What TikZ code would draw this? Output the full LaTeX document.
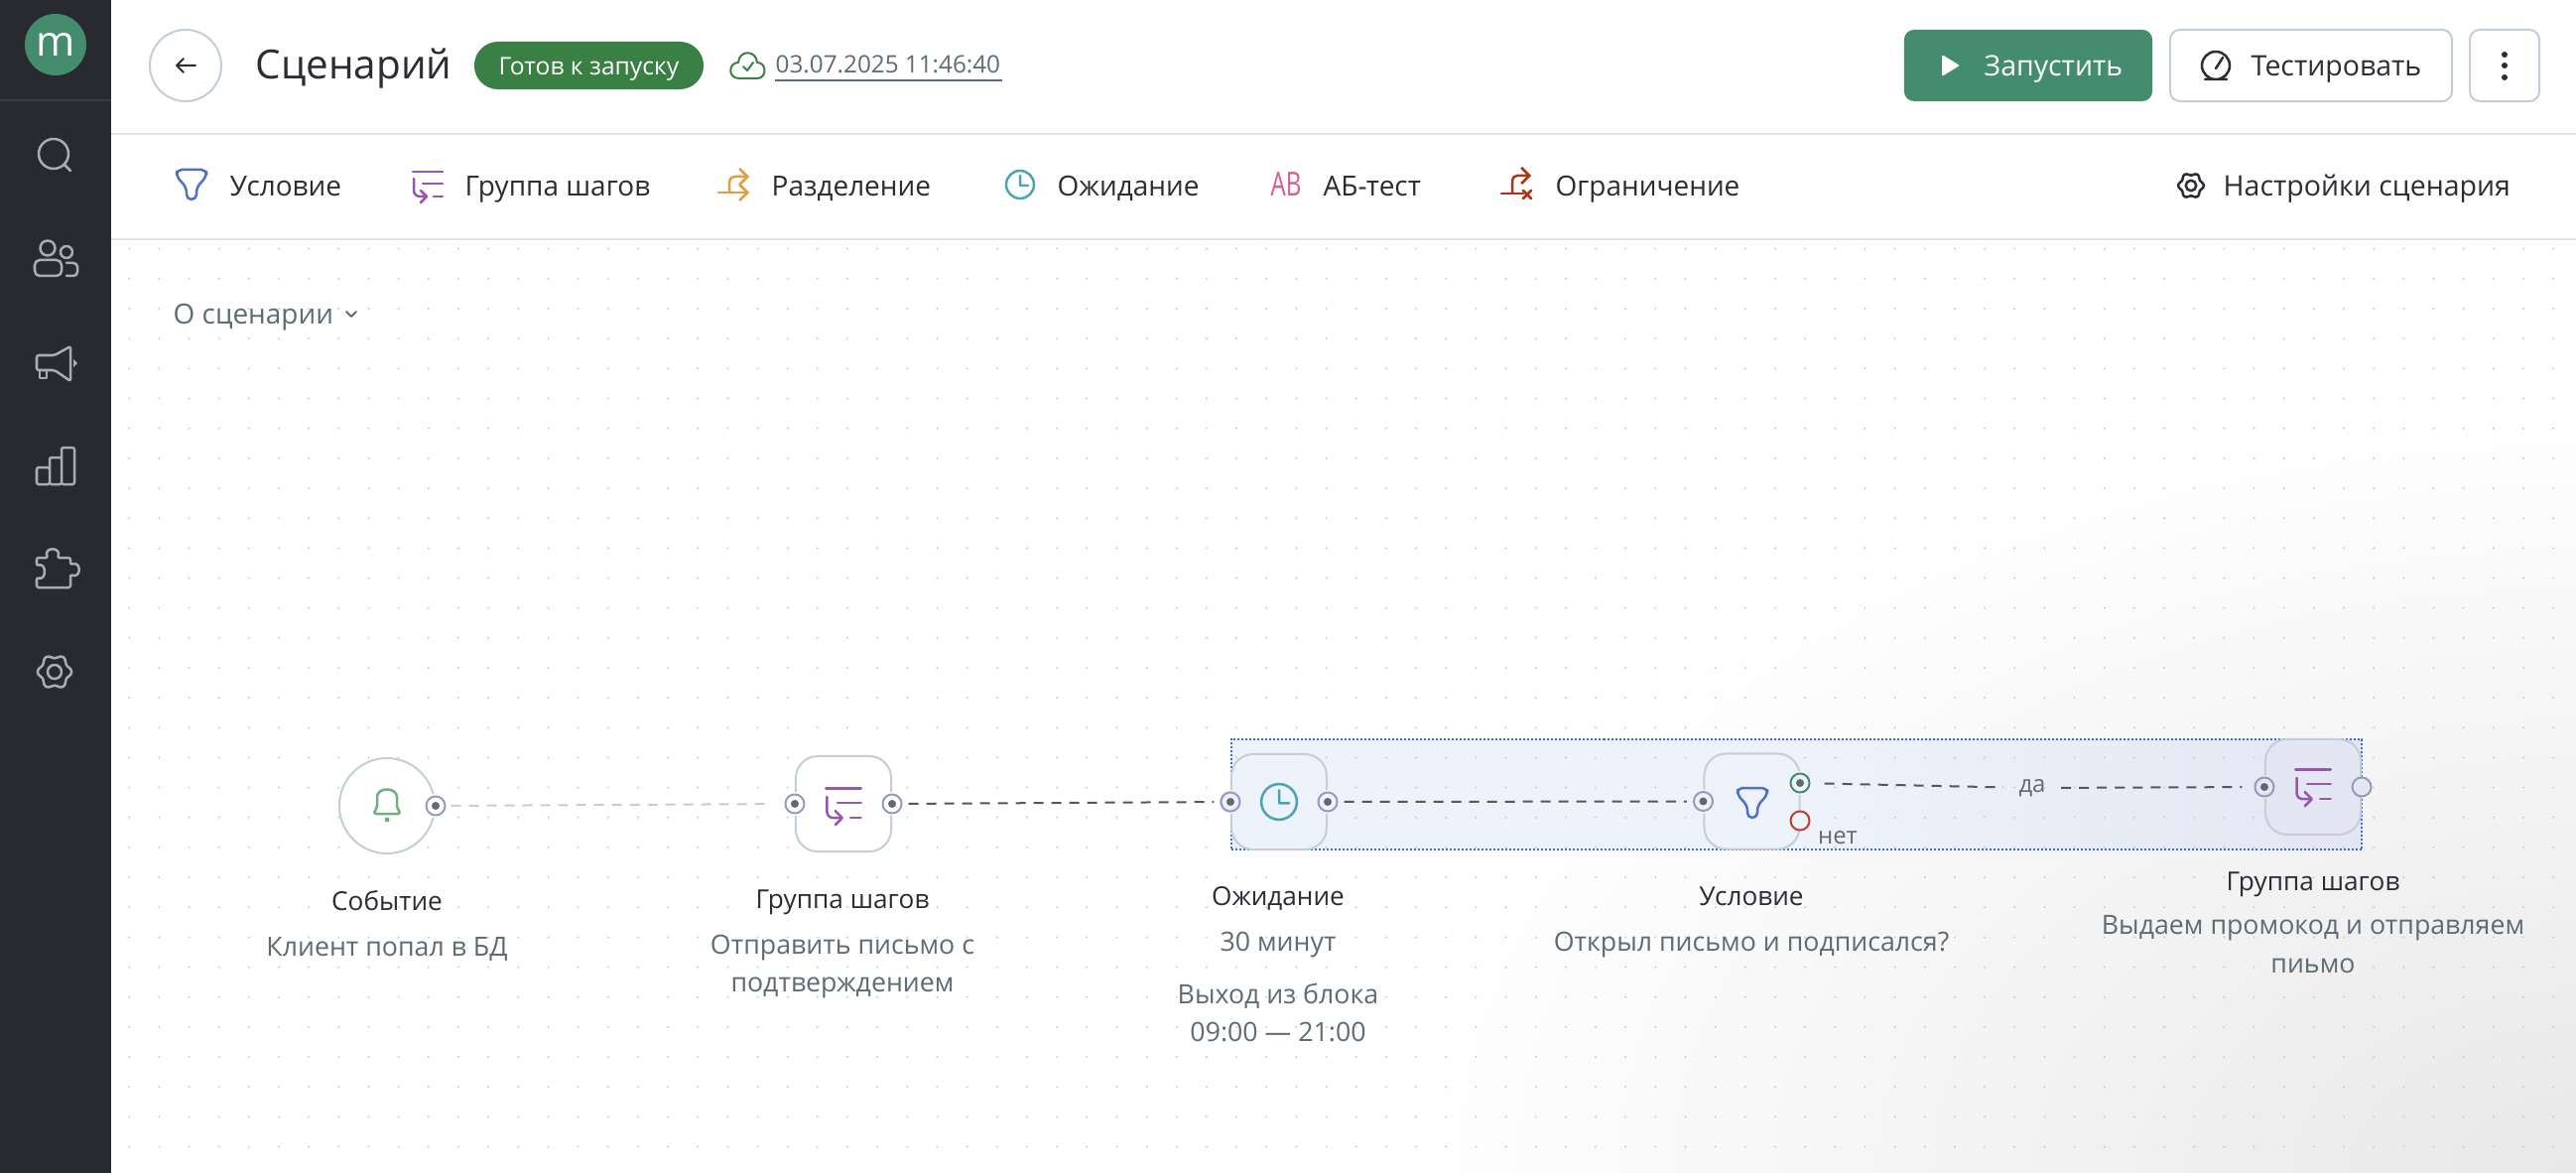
\documentclass[tikz,border=0pt]{standalone}
\usepackage{fontspec}
\setmainfont{Open Sans}
\usetikzlibrary{shapes, arrows.meta, positioning, calc}
\definecolor{railgray}{RGB}{40, 42, 47}
\definecolor{railicon}{RGB}{170, 172, 175}
\definecolor{railrule}{RGB}{58, 61, 66}
\definecolor{popgreen}{RGB}{67, 141, 110}
\definecolor{badgegreen}{RGB}{58, 128, 68}
\definecolor{inkdark}{RGB}{43, 45, 51}
\definecolor{inkgray}{RGB}{95, 107, 114}
\definecolor{edgegray}{RGB}{195, 206, 214}
\definecolor{rulegray}{RGB}{224, 228, 232}
\definecolor{portblue}{RGB}{150, 155, 190}
\definecolor{griddot}{RGB}{200, 203, 206}
\definecolor{selblue}{RGB}{62, 107, 224}
\definecolor{selfill}{RGB}{238, 242, 251}
\definecolor{selfade}{RGB}{228, 231, 243}
\definecolor{funnelblue}{RGB}{79, 111, 201}
\definecolor{stepviolet}{RGB}{150, 87, 173}
\definecolor{splitorange}{RGB}{224, 158, 62}
\definecolor{clockteal}{RGB}{74, 165, 174}
\definecolor{abpink}{RGB}{214, 92, 140}
\definecolor{limitred}{RGB}{172, 50, 24}
\definecolor{bellgreen}{RGB}{111, 176, 127}
\definecolor{nored}{RGB}{196, 62, 40}

\begin{document}
\begin{tikzpicture}[
  x=0.01cm, y=-0.01cm,
  thinline/.style={line width=.02cm, line cap=round, line join=round},
  railline/.style={thinline, draw=railicon, line width=.025cm},
  toolline/.style={thinline, line width=.025cm},
  toollabel/.style={anchor=west, inner sep=0, text height=.23cm, text depth=.03cm, text=inkdark, font=\fontsize{7.95}{10.8}\selectfont},
  widelabel/.style={toollabel, font=\fontsize{8.1}{10.8}\selectfont},
  steptitle/.style={inner sep=0, text height=.23cm, text depth=.03cm, text=inkdark, font=\fontsize{7.45}{10.8}\selectfont},
  stepnote/.style={anchor=north, align=center, inner sep=0, text=inkgray, font=\fontsize{7.6}{10.9}\selectfont},
  stepbox/.style={draw=edgegray, fill=#1, line width=.02cm, rounded corners=.22cm, minimum size=.96cm, inner sep=0},
  stepbox/.default=white,
  portdot/.style={circle, draw=portblue, fill=#1, line width=.02cm, minimum size=.19cm, inner sep=0,
    preaction={draw=#1, line width=.05cm},
    path picture={\fill[inkgray] (path picture bounding box.center) circle (.04cm);}},
  portdot/.default=white,
  flowfaint/.style={draw=edgegray, line width=.02cm, dash pattern=on .1cm off .08cm, shorten >=.14cm, shorten <=.05cm},
  flowdark/.style={draw=inkdark!80, line width=.02cm, dash pattern=on .1cm off .08cm, shorten >=.06cm, shorten <=.06cm},
  funnelicon/.pic={\draw[toolline, rounded corners=.05cm] (-15,-15) -- (15,-15) -- (15,-8) -- (5,3) -- (5,15) -- (-5,15) -- (-5,3) -- (-15,-8) -- cycle;},
  groupicon/.pic={
    \draw[toolline] (-15,-13) -- (15,-13) (-5,-1) -- (15,-1) (6,12) -- (15,12);
    \draw[toolline, rounded corners=.06cm] (-14,-6) -- (-14,12) -- (-2,12);
    \draw[toolline] (-7,6) -- (-1,12) -- (-7,18);},
  clockicon/.pic={\draw[toolline] (0,0) circle (14) (0,-9) -- (0,1) -- (8,1);},
  gearicon/.pic={
    \draw[thinline, line width=.025cm] plot[domain=0:350, samples=36, smooth cycle] ({(15.5+1.8*cos(6*\x))*cos(\x)},{(15.5+1.8*cos(6*\x))*sin(\x)});
    \draw[thinline, line width=.025cm] (0,0) circle (7);}
]
  \useasboundingbox (0,0) rectangle (2596,1182);
  \fill[white] (0,0) rectangle (2596,1182);
  \begin{scope}
    \clip (112,241) rectangle (2596,1182);
    \shade[inner color=black!9, outer color=white] (2596,1182) ellipse (1200 and 780);
  \end{scope}

  \node[draw=selblue, left color=selfill, right color=selfade, middle color=selfill, line width=.02cm, dash pattern=on .02cm off .02cm, minimum width=11.39cm, minimum height=1.11cm, inner sep=0] (selection) at (1810.5,800.5) {};
  \fill[griddot] \foreach \i in {0,...,81} { \foreach \j in {0,...,30} { ({130.2+\i*30.16},{250.7+\j*30.16}) circle (1.1) } };

  \fill[railgray] (0,0) rectangle (112,1182);
  \draw[railrule, line width=.02cm] (0,101) -- (112,101);
  \draw[rulegray, line width=.02cm] (112,135) -- (2596,135);
  \draw[rulegray, line width=.02cm] (112,241) -- (2596,241);

  \node[circle, fill=popgreen, minimum size=.62cm, inner sep=0, text=white, font=\fontsize{12}{12}\selectfont] (logo) at (56,45) {m};
  \draw[railline] (54,155) circle (15) (65,166) -- (71,172);
  \draw[railline] (48,250) circle (7.5) (67,254) circle (6);
  \draw[railline, rounded corners=.05cm] (35,278) -- (35,262) -- (62,262) -- (62,278) -- cycle;
  \draw[railline, rounded corners=.04cm] (67,265) -- (78,265) -- (78,278) -- (67,278);
  \draw[railline, rounded corners=.02cm] (37,358) -- (55,358) -- (71,349) -- (71,384) -- (55,373) -- (37,373) -- cycle;
  \draw[railline] (40,373) -- (40,381) -- (47,381) -- (47,373);
  \fill[railicon] (74,362) -- (78,366) -- (74,370) -- cycle;
  \draw[railline, rounded corners=.02cm] (37,471) rectangle (50,488) (50,461) rectangle (62,488) (62,451) rectangle (75,488);
  \draw[railline, rounded corners=.02cm] (37,562) -- (48,562) .. controls (44,551) and (62,551) .. (58,562) -- (71,562) -- (71,569) .. controls (82,565) and (82,583) .. (71,579) -- (71,592) -- (37,592) -- (37,582) .. controls (47,585) and (47,567) .. (37,570) -- cycle;
  \pic[railicon] at (55,677) {gearicon};

  \node[circle, draw=edgegray, line width=.02cm, minimum size=.72cm, inner sep=0] (back) at (187,66) {};
  \draw[thinline, inkdark] (178,66) -- (197,66) (185,59) -- (178,66) -- (185,73);
  \node[anchor=west, inner sep=0, text height=.32cm, text depth=.06cm, text=inkdark, font=\fontsize{11.5}{13}\selectfont] (title) at (257,66) {Сценарий};
  \node[fill=badgegreen, rounded corners=.24cm, minimum width=2.31cm, minimum height=.48cm, inner sep=0, text height=.24cm, text depth=.05cm, text=white, font=\fontsize{7}{8}\selectfont] (badge) at (593.5,66) {Готов к запуску};
  \draw[thinline, badgegreen] (745,79) .. controls (733,79) and (734,63) .. (744,63) .. controls (745,50) and (762,50) .. (763,63) .. controls (773,63) and (773,79) .. (763,79) -- cycle;
  \draw[thinline, badgegreen] (749,67) -- (753,71) -- (759,63);
  \node[anchor=west, inner sep=0, text=inkgray, text height=.17cm, text depth=.05cm, font=\fontsize{6.9}{8}\selectfont] (saved) at (781,67) {03.07.2025 11:46:40};
  \draw[inkgray, line width=.02cm] (781,81) -- (1010,81);

  \node[fill=popgreen, rounded corners=.1cm, minimum width=2.5cm, minimum height=.72cm, inner sep=0] (run) at (2044,66) {};
  \fill[white, rounded corners=.02cm] (1957,55) -- (1975,66) -- (1957,77) -- cycle;
  \node[widelabel, text=white] at (1999,66) {Запустить};
  \node[draw=edgegray, fill=white, line width=.02cm, rounded corners=.1cm, minimum width=2.84cm, minimum height=.72cm, inner sep=0] (test) at (2329,66) {};
  \draw[toolline, inkdark] (2233,66) circle (14) (2233,69) -- (2240,58) (2222,80) -- (2244,80);
  \node[widelabel] at (2268,66) {Тестировать};
  \node[draw=edgegray, fill=white, line width=.02cm, rounded corners=.1cm, minimum width=.7cm, minimum height=.72cm, inner sep=0] (more) at (2524,66) {};
  \foreach \y in {55,66,78} { \fill[inkdark] (2524,\y) circle (3); }

  \pic[funnelblue] at (193,186) {funnelicon};
  \node[toollabel] at (231,187) {Условие};
  \pic[stepviolet] at (431,186) {groupicon};
  \node[toollabel] at (468,187) {Группа шагов};
  \draw[toolline, splitorange, -{Straight Barb[length=.08cm, width=.16cm]}] (724,194) -- (755,194);
  \draw[toolline, splitorange, rounded corners=.05cm, -{Straight Barb[length=.08cm, width=.16cm]}] (735,194) -- (735,178) -- (755,178);
  \node[toollabel] at (777,187) {Разделение};
  \pic[clockteal] at (1028,186) {clockicon};
  \node[toollabel] at (1065,187) {Ожидание};
  \node[inner sep=0, text=abpink, font=\fontsize{9.5}{10}\selectfont] (abmark) at (1296,186) {\scalebox{.72}[1]{AB}};
  \node[toollabel] at (1333,187) {АБ-тест};
  \draw[toolline, limitred] (1513,195) -- (1535,195);
  \draw[toolline, limitred, rounded corners=.05cm, -{Straight Barb[length=.08cm, width=.16cm]}] (1524,195) -- (1524,177) -- (1543,177);
  \draw[toolline, limitred] (1535,192) -- (1543,200) (1543,192) -- (1535,200);
  \node[toollabel] at (1567,187) {Ограничение};
  \pic[inkdark, scale=.75] at (2208,187) {gearicon};
  \node[widelabel] at (2240,187) {Настройки сценария};
  \node[toollabel, text=inkgray] at (174,316) {О сценарии};
  \draw[thinline, inkgray] (349,314) -- (354,319) -- (359,314);

  \node[circle, draw=edgegray, fill=white, line width=.02cm, minimum size=.96cm, inner sep=0] (eventbox) at (390,812) {};
  \node[stepbox] (groupbox) at (850,810) {};
  \node[stepbox=selfill] (waitbox) at (1289,808) {};
  \node[stepbox=selfill] (condbox) at (1765.5,807.5) {};
  \node[stepbox=selfade] (lastbox) at (2331,793) {};

  \node[portdot] (eventout) at (eventbox.east) {};
  \node[portdot] (groupin) at (groupbox.west) {};
  \node[portdot] (groupout) at (groupbox.east) {};
  \node[portdot=selfill] (waitin) at (waitbox.west) {};
  \node[portdot=selfill] (waitout) at (waitbox.east) {};
  \node[portdot=selfill] (condin) at (condbox.west) {};
  \node[portdot=selfill, draw=popgreen] (condyes) at (1814,789) {};
  \node[circle, draw=nored, fill=selfill, line width=.02cm, minimum size=.19cm, inner sep=0] (condno) at (1814,827) {};
  \node[portdot=selfade] (lastin) at (lastbox.west) {};
  \node[circle, draw=portblue, fill=selfade, line width=.02cm, minimum size=.19cm, inner sep=0] (lastout) at (lastbox.east) {};

  \node[inner sep=.15cm, text=inkgray, font=\fontsize{6.8}{8}\selectfont] (yeslabel) at (2048,794) {да};
  \node[inner sep=0, text=inkgray, font=\fontsize{6.8}{8}\selectfont] (nolabel) at (1852,844) {нет};

  \draw[flowfaint] (eventout) -- (groupin);
  \draw[flowdark] (groupout) -- (waitin);
  \draw[flowdark] (waitout) -- (condin);
  \draw[flowdark, shorten >=0, shorten <=.14cm] (condyes) -- (yeslabel);
  \draw[flowdark, shorten <=0, shorten >=.12cm] (yeslabel) -- (lastin);

  \draw[bellgreen, toolline, rounded corners=.03cm] (376,820) -- (380,814) -- (380,806) .. controls (380,793) and (400,793) .. (400,806) -- (400,814) -- (404,820) -- cycle;
  \fill[bellgreen] (390,826) circle (2.5);
  \pic[stepviolet, scale=1.18] at (850,810) {groupicon};
  \pic[clockteal, scale=1.28] at (1289,808) {clockicon};
  \pic[funnelblue] at (1766,809) {funnelicon};
  \pic[stepviolet, scale=1.18] at (2331,791) {groupicon};

  \node[steptitle] (eventname) at (390,907) {Событие};
  \node[stepnote] (eventnote) at (390,944) {Клиент попал в БД};
  \node[steptitle] (groupname) at (849,905) {Группа шагов};
  \node[stepnote] (groupnote) at (849,941) {Отправить письмо с\\подтверждением};
  \node[steptitle] (waitname) at (1288,902) {Ожидание};
  \node[stepnote] (waitnote) at (1288,938) {30 минут};
  \node[stepnote] (waitexit) at (1288,990) {Выход из блока\\09:00 — 21:00};
  \node[steptitle] (condname) at (1765,902) {Условие};
  \node[stepnote] (condnote) at (1765,938) {Открыл письмо и подписался?};
  \node[steptitle] (lastname) at (2331,887) {Группа шагов};
  \node[stepnote] (lastnote) at (2331,922) {Выдаем промокод и отправляем\\пиьмо};
\end{tikzpicture}
\end{document}
